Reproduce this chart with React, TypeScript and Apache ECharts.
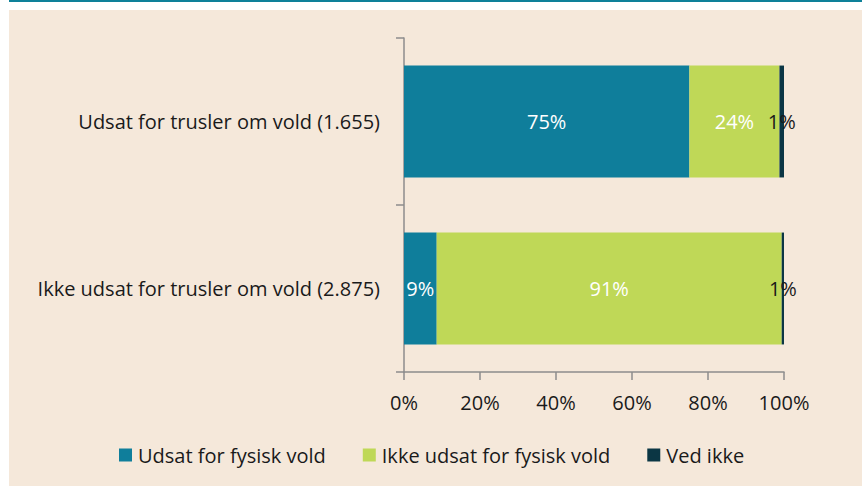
import React, { useEffect, useRef } from "react";
import * as echarts from "echarts";

const categories = ["Udsat for trusler om vold (1.655)", "Ikke udsat for trusler om vold (2.875)"];
const seriesNames = ["Udsat for fysisk vold", "Ikke udsat for fysisk vold", "Ved ikke"];
const udsatValues = [75.1, 8.6];
const ikkeUdsatValues = [23.7, 90.8];
const vedIkkeValues = [1.2, 0.6];
const xTicks = [0, 20, 40, 60, 80, 100];

const colors = ["#0f7e9b", "#bfd857", "#0b3644"];
const FONT = "'Open Sans', 'Noto Sans', sans-serif";

export default function App() {
  const ref = useRef<HTMLDivElement>(null);
  useEffect(() => {
    if (!ref.current) return;
    const chart = echarts.init(ref.current, undefined, { renderer: "svg" });
    const values = [udsatValues, ikkeUdsatValues, vedIkkeValues];
    chart.setOption({
      animation: false,
      backgroundColor: "#ffffff",
      textStyle: { fontFamily: FONT },
      graphic: [
        { type: "rect", shape: { x: 9, y: 0, width: 853, height: 2 }, style: { fill: "#0e8199" }, z: -10 },
        { type: "rect", shape: { x: 9, y: 10, width: 853, height: 476 }, style: { fill: "#f5e8da" }, z: -10 },
      ],
      grid: { left: 404, right: 78, top: 38, bottom: 114, containLabel: false },
      xAxis: {
        type: "value",
        min: xTicks[0],
        max: xTicks[xTicks.length - 1],
        interval: 20,
        splitLine: { show: false },
        axisLine: { show: true, lineStyle: { color: "#8c8c8c", width: 1.5 } },
        axisTick: { show: true, length: 8, lineStyle: { color: "#8c8c8c", width: 1.5 } },
        axisLabel: { formatter: "{value}%", color: "#1a1a1a", fontSize: 20, fontFamily: FONT, margin: 20 },
      },
      yAxis: {
        type: "category",
        data: categories,
        inverse: true,
        axisLine: { show: true, lineStyle: { color: "#8c8c8c", width: 1.5 } },
        axisTick: { show: true, length: 8, lineStyle: { color: "#8c8c8c", width: 1.5 } },
        axisLabel: { color: "#1a1a1a", fontSize: 20, fontFamily: FONT, margin: 24 },
      },
      legend: {
        top: 445,
        left: 119,
        padding: 0,
        itemWidth: 13,
        itemHeight: 13,
        itemGap: 37,
        icon: "rect",
        textStyle: { color: "#1a1a1a", fontSize: 20, fontFamily: FONT, padding: [0, 0, 0, 1] },
        data: seriesNames,
      },
      series: seriesNames.map((name, i) => ({
        name,
        type: "bar",
        stack: "total",
        barWidth: "67%",
        data: values[i],
        itemStyle: { color: colors[i] },
        label: {
          show: true,
          position: "inside",
          formatter: (p: any) => Math.round(p.value) + "%",
          color: i === 2 ? "#1a1a1a" : "#ffffff",
          fontSize: 20,
          fontFamily: FONT,
        },
      })),
    });
    return () => chart.dispose();
  }, []);
  return (
    <div style={{ position: "fixed", left: 0, top: 0, width: 862, height: 486 }}>
      <div ref={ref} style={{ width: 862, height: 486 }} />
    </div>
  );
}
